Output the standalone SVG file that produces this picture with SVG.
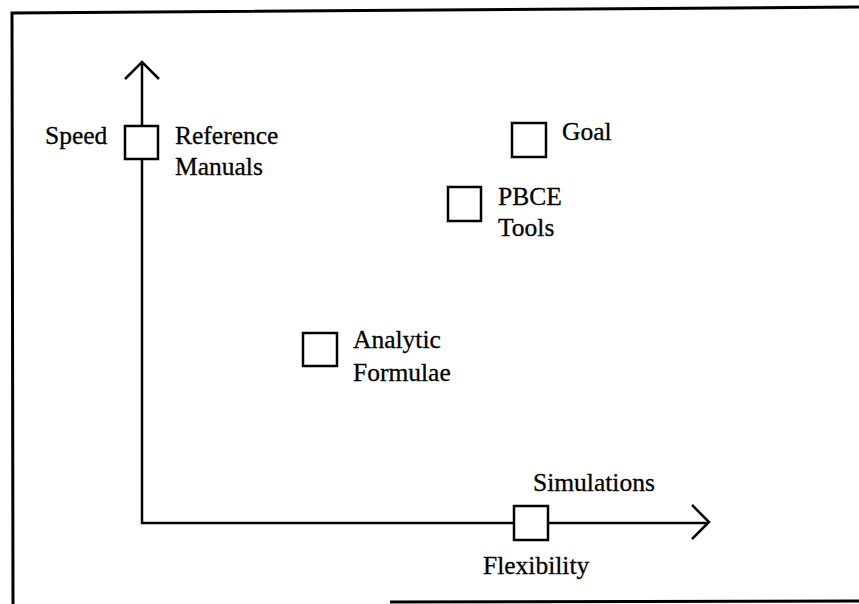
<svg xmlns="http://www.w3.org/2000/svg" width="859" height="604" viewBox="0 0 859 604">
  <style>
    .frame { fill: none; stroke: #000; stroke-width: 3; }
    .axis { fill: none; stroke: #000; stroke-width: 2.5; }
    .box { fill: #fff; stroke: #000; stroke-width: 2.5; }
    .lbl { font-family: "Liberation Serif", "Times New Roman", serif; font-size: 25.5px; fill: #000; stroke: #000; stroke-width: 0.3; }
  </style>
  <rect width="859" height="604" fill="#fff"/>

  <!-- outer border -->
  <g id="border">
    <path class="frame" d="M859 7 L12 13 L13 604"/>
    <path class="frame" d="M390 602 L859 601"/>
  </g>

  <!-- axes with open arrowheads -->
  <g id="connectors">
    <path class="axis" d="M142 64 V523 H708"/>
    <path class="axis" d="M125 79 L142 62 L159 79"/>
    <path class="axis" d="M692 505 L709 522 L692 539"/>
  </g>

  <g id="reference-manuals">
    <rect class="box" x="125" y="126" width="33" height="33"/>
    <text class="lbl" x="45" y="144">Speed</text>
    <text class="lbl" x="175" y="144">Reference</text>
    <text class="lbl" x="175" y="175">Manuals</text>
  </g>

  <g id="goal">
    <rect class="box" x="512" y="123" width="34" height="34"/>
    <text class="lbl" x="562" y="140">Goal</text>
  </g>

  <g id="pbce-tools">
    <rect class="box" x="448" y="187" width="33" height="34"/>
    <text class="lbl" x="498" y="205">PBCE</text>
    <text class="lbl" x="498" y="236">Tools</text>
  </g>

  <g id="analytic-formulae">
    <rect class="box" x="303" y="333" width="34" height="33"/>
    <text class="lbl" x="353" y="348">Analytic</text>
    <text class="lbl" x="353" y="381">Formulae</text>
  </g>

  <g id="simulations">
    <rect class="box" x="514" y="506" width="34" height="34"/>
    <text class="lbl" x="533" y="491">Simulations</text>
    <text class="lbl" x="483" y="574">Flexibility</text>
  </g>
</svg>
